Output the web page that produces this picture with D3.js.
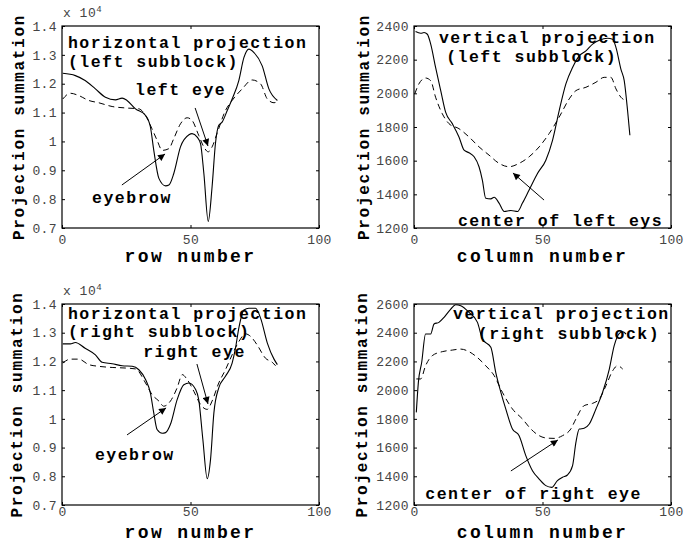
<!DOCTYPE html>
<html><head><meta charset="utf-8">
<script src="https://cdn.jsdelivr.net/npm/d3@7"></script>
<style>
body{margin:0;background:#fff;}
svg{display:block;}
</style></head>
<body><svg id="chart" width="692" height="543"></svg>
<script>
// ---------- data ----------
const xTicks = [0, 50, 100];
const yTicksH = [7000, 8000, 9000, 10000, 11000, 12000, 13000, 14000];
const yTicksVL = [1200, 1400, 1600, 1800, 2000, 2200, 2400];
const yTicksVR = [1200, 1400, 1600, 1800, 2000, 2200, 2400, 2600];

// top-left: horizontal projection (left subblock)
const hlSolidX = [0.3,5.2,9,13,16.9,20.8,23.4,25.3,28.6,32.5,34.4,35.7,37.7,40.3,41.6,43.5,46.1,49.4,50.6,52.6,53.9,55.2,56.9,58.4,59.7,61,62.3,64.3,66.2,68.8,70.8,72.7,74.7,77.9,80.5,83.8];
const hlSolidY = [12360,12280,12110,11820,11530,11440,11500,11420,11130,10900,10500,9700,8720,8460,8490,8890,9810,10230,10270,10150,9920,8890,7230,8430,9920,10560,10670,11070,11470,12110,12910,13200,13080,12620,11820,11420];
const hlDashX = [0.3,3.2,6.5,10.4,14.3,19.5,24.7,29.9,32.5,35,37,39,41.6,43.5,46.1,48.7,50.6,53.2,55.2,56.9,58.4,60.3,63.6,66.2,70.1,74,77.3,79.9,82.5,83.8];
const hlDashY = [11470,11670,11590,11420,11340,11210,11160,11130,10900,10440,10040,9690,9750,10100,10610,10820,10730,10210,9810,9640,9810,10270,11070,11420,11820,12130,11990,11470,11340,11380];

// top-right: vertical projection (left subblock)
const vlSolidX = [0.6,2.6,3.9,5.2,6.5,8.4,10.4,12.3,14.9,17.5,19.5,21.4,23.4,25.3,26.6,27.9,29.9,31.2,33.1,35.1,37.7,40.3,42.2,44.8,48.1,51.3,53.9,56.5,59.1,61.7,64.3,66.9,69.5,72.1,75.3,77.3,78.6,80.5,81.8,83.1,84];
const vlSolidY = [2367,2357,2361,2351,2292,2154,2016,1888,1820,1741,1662,1647,1623,1564,1485,1377,1373,1383,1348,1298,1304,1298,1348,1426,1525,1603,1721,1898,2056,2154,2223,2252,2292,2315,2327,2321,2272,2144,2075,1898,1751];
const vlDashX = [0.3,1.9,4.5,6.5,8.4,11,13.6,17.5,21.4,25.3,29.2,33.1,37,40.9,44.8,48.7,52.6,56.5,60.4,63,66.9,70.8,74,76.6,78.6,80.5,82.5];
const vlDashY = [1997,2056,2091,2075,1977,1879,1820,1790,1741,1682,1633,1584,1564,1584,1623,1682,1761,1859,1967,2016,2036,2066,2095,2095,2026,1977,1957];

// bottom-left: horizontal projection (right subblock)
const hrSolidX = [0.3,3.2,5.2,9,13,15.6,19.5,23.4,27.3,29.9,32.5,34.4,35.7,37,39,40.3,42.2,44.8,47.4,49.4,52,53.2,54.8,56.5,57.8,59.1,61,63.6,66.2,67.5,68.8,70.8,72.7,75.3,77.3,79.9,82.5,83.8];
const hrSolidY = [12610,12610,12660,12460,12230,11970,11920,11850,11830,11710,11370,10900,10210,9630,9500,9520,9810,10670,11190,11250,11020,10670,9290,7920,8590,10210,11080,11480,11940,12460,13160,13790,13850,13850,13500,12640,12080,11890];
const hrDashX = [0.3,3.2,6.5,10.4,14.3,19.5,24.7,28.6,32.5,35,37.7,39.6,42.2,44.8,46.8,48.7,51.3,53.9,56.5,58.4,61,63.6,66.2,68.8,71.4,73.4,75.9,79.2,81.8,83.1];
const hrDashY = [11940,12080,12080,11890,11830,11790,11770,11740,11250,10850,10620,10440,10620,11080,11540,11370,10960,10500,10330,10620,11250,11710,12230,12690,12960,12870,12580,12110,11970,11850];

// bottom-right: vertical projection (right subblock)
const vrSolidX = [0.9,1.7,3,4.5,6.5,7.8,9.7,11.7,14.3,16.2,18.2,21.4,24.7,26.6,29.9,31.8,33.8,35.7,38.3,40.9,43.5,46.1,48.7,51.3,53.6,55.8,57.8,59.7,61.7,63,64.3,66.2,68.2,70.8,73.4,76,77.9,79.9,81.2,82.5];
const vrSolidY = [1845,2054,2194,2391,2391,2461,2472,2507,2565,2595,2588,2542,2472,2356,2298,2124,1985,1869,1729,1683,1544,1439,1381,1335,1323,1370,1393,1409,1474,1636,1729,1734,1764,1869,1985,2147,2310,2396,2407,2391];
const vrDashX = [0.9,2.6,4.5,7.1,11,14.9,18.2,21.4,25.3,27.9,31.2,34.4,38.3,42.2,45.5,48.7,51.3,54.5,57.8,61,63,66.2,69.5,72.1,74.7,77.3,79.2,81.2];
const vrDashY = [2078,2078,2170,2240,2268,2279,2286,2268,2217,2170,2101,1985,1869,1799,1729,1683,1667,1664,1683,1729,1799,1892,1908,1938,2031,2135,2170,2147];

// annotations (data coordinates)
const hlTexts = [["horizontal projection",2.3,13240],["(left subblock)",2.3,12580],["left eye",28.4,11610],["eyebrow",11.7,7870]];
const hlArrows = [[23.3,8490,40.1,9565],[51.8,11160,56.8,9840]];
const vlTexts = [["vertical projection",9.7,2297],["(left subblock)",12.5,2188],["center of left eys",17.1,1212]];
const vlArrows = [[50.6,1366,38.5,1527]];
const hrTexts = [["horizontal projection",2.3,13490],["(right subblock)",2.3,12850],["right eye",31.6,12150],["eyebrow",12.8,8566]];
const hrArrows = [[25.3,9440,40.5,10380],[52.5,11910,56.8,10520]];
const vrTexts = [["vertical projection",15.2,2498],["(right subblock)",24.8,2356],["center of right eye",4.4,1242]];
const vrArrows = [[37.7,1437,56,1653]];

// ---------- drawing ----------
const svg = d3.select("#chart");
const MONO = "'Liberation Mono','DejaVu Sans Mono',monospace";

svg.append("defs").append("marker")
  .attr("id","ah").attr("viewBox","0 0 10 10").attr("refX",10).attr("refY",5)
  .attr("markerWidth",10).attr("markerHeight",7).attr("markerUnits","userSpaceOnUse")
  .attr("orient","auto")
  .append("path").attr("d","M0,0L10,5L0,10Z").attr("fill","#000");

const panels = [
  {l:62, t:26, w:257, h:202, y:[7000,14000], yt:yTicksH, sci:true, xl:"row number", ylx:24, xly:262, tp:7,
   sx:hlSolidX, sy:hlSolidY, dx:hlDashX, dy:hlDashY, texts:hlTexts, arrows:hlArrows},
  {l:414, t:26, w:257, h:202, y:[1200,2400], yt:yTicksVL, sci:false, xl:"column number", ylx:369, xly:262, tp:7,
   sx:vlSolidX, sy:vlSolidY, dx:vlDashX, dy:vlDashY, texts:vlTexts, arrows:vlArrows},
  {l:62, t:304, w:257, h:201, y:[7000,14000], yt:yTicksH, sci:true, xl:"row number", ylx:22, xly:538, tp:2,
   sx:hrSolidX, sy:hrSolidY, dx:hrDashX, dy:hrDashY, texts:hrTexts, arrows:hrArrows},
  {l:414, t:304, w:257, h:201, y:[1200,2600], yt:yTicksVR, sci:false, xl:"column number", ylx:367, xly:538, tp:2,
   sx:vrSolidX, sy:vrSolidY, dx:vrDashX, dy:vrDashY, texts:vrTexts, arrows:vrArrows}
];

panels.forEach((p, i) => {
  const g = svg.append("g").attr("transform", `translate(${p.l},${p.t})`);
  const x = d3.scaleLinear().domain([0,100]).range([0,p.w]);
  const y = d3.scaleLinear().domain(p.y).range([p.h,0]);
  const fmt = p.sci ? (d => d3.format("~g")(+(d/1e4).toFixed(2))) : d3.format("d");

  const styleAxis = sel => {
    sel.select(".domain").remove();
    sel.selectAll(".tick line").attr("stroke","#000").attr("stroke-width",1);
    sel.selectAll(".tick text").attr("font-family",MONO).attr("font-size",13)
      .attr("letter-spacing",0.4).attr("fill","#444");
  };
  g.append("g").attr("transform",`translate(0,${p.h})`)
    .call(d3.axisBottom(x).tickValues(xTicks).tickSize(-3).tickPadding(p.tp).tickFormat(d3.format("d")))
    .call(styleAxis);
  g.append("g").call(d3.axisTop(x).tickValues(xTicks).tickSize(-3).tickFormat(""))
    .call(styleAxis);
  g.append("g")
    .call(d3.axisLeft(y).tickValues(p.yt).tickSize(-3).tickPadding(5).tickFormat(fmt))
    .call(styleAxis);
  g.append("g").attr("transform",`translate(${p.w},0)`)
    .call(d3.axisRight(y).tickValues(p.yt).tickSize(-3).tickFormat(""))
    .call(styleAxis);

  g.append("rect").attr("width",p.w).attr("height",p.h)
    .attr("fill","none").attr("stroke","#000").attr("stroke-width",1.2);

  const line = d3.line().x(d=>x(d[0])).y(d=>y(d[1])).curve(d3.curveMonotoneX);
  g.append("path").datum(p.dx.map((v,k)=>[v,p.dy[k]]))
    .attr("d",line).attr("fill","none").attr("stroke","#000").attr("stroke-width",1)
    .attr("stroke-dasharray","6,4");
  g.append("path").datum(p.sx.map((v,k)=>[v,p.sy[k]]))
    .attr("d",line).attr("fill","none").attr("stroke","#000").attr("stroke-width",1.1);

  p.texts.forEach(tx => {
    g.append("text").attr("x",x(tx[1])).attr("y",y(tx[2]))
      .attr("font-family",MONO).attr("font-weight","bold").attr("font-size",16.5)
      .attr("letter-spacing",1.5)
      .attr("fill","#000").attr("xml:space","preserve").text(tx[0]);
  });
  p.arrows.forEach(a => {
    g.append("line").attr("x1",x(a[0])).attr("y1",y(a[1])).attr("x2",x(a[2])).attr("y2",y(a[3]))
      .attr("stroke","#000").attr("stroke-width",1).attr("marker-end","url(#ah)");
  });

  // axis labels
  g.append("text").attr("x",p.w/2).attr("y",p.xly - p.t)
    .attr("text-anchor","middle").attr("font-family",MONO).attr("font-weight","bold")
    .attr("font-size",18).attr("letter-spacing",2.4).attr("fill","#000").text(p.xl);
  g.append("text").attr("transform",`translate(${p.ylx - p.l},${p.h/2}) rotate(-90)`)
    .attr("text-anchor","middle").attr("font-family",MONO).attr("font-weight","bold")
    .attr("font-size",16).attr("letter-spacing",1.7).attr("fill","#000").text("Projection summation");

  if (p.sci) {
    const t = g.append("text").attr("x",1).attr("y",-9)
      .attr("font-family",MONO).attr("font-size",13).attr("letter-spacing",0.5).attr("fill","#444");
    t.append("tspan").text("x 10");
    t.append("tspan").attr("dy",-5).attr("font-size",9).text("4");
  }
});
</script></body></html>
